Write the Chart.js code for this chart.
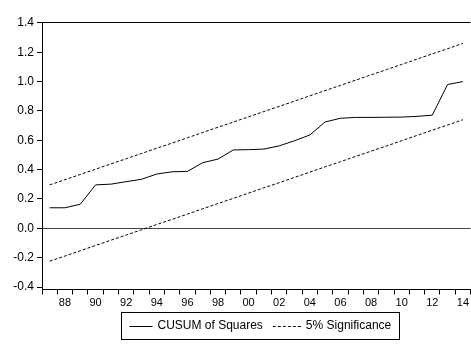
<!DOCTYPE html>
<html>
<head>
<meta charset="utf-8">
<script src="https://cdn.jsdelivr.net/npm/chart.js@4.4.1/dist/chart.umd.min.js"></script>
<style>
html,body{margin:0;padding:0;background:#fff;overflow:hidden}
#wrap{width:471px;height:349px;position:relative}
</style>
</head>
<body>
<div id="wrap"><canvas id="c" width="471" height="349"></canvas></div>
<script>
// Categories: annual observations 1987..2014 (two-digit labels)
const years = ['87','88','89','90','91','92','93','94','95','96','97','98','99','00',
               '01','02','03','04','05','06','07','08','09','10','11','12','13','14'];
// Labels actually printed on the x axis
const xShown = ['88','90','92','94','96','98','00','02','04','06','08','10','12','14'];
// CUSUM of Squares values
const cusum = [0.140,0.140,0.164,0.296,0.301,0.318,0.334,0.370,0.385,0.388,0.447,0.472,0.534,0.536,
               0.540,0.562,0.597,0.636,0.725,0.750,0.756,0.756,0.757,0.758,0.763,0.771,0.980,1.000];
// 5% significance bands
const upper = [0.296,0.331,0.367,0.403,0.439,0.474,0.510,0.546,0.581,0.617,0.653,0.689,0.724,0.760,
               0.796,0.831,0.867,0.903,0.939,0.974,1.010,1.046,1.081,1.117,1.153,1.189,1.224,1.260];
const lower = [-0.224,-0.189,-0.153,-0.117,-0.081,-0.046,-0.010,0.026,0.061,0.097,0.133,0.169,0.204,0.240,
               0.276,0.311,0.347,0.383,0.419,0.454,0.490,0.526,0.561,0.597,0.633,0.669,0.704,0.740];
// Y tick values
const yTicks = [-0.4,-0.2,0.0,0.2,0.4,0.6,0.8,1.0,1.2,1.4];
const seriesNames = ['CUSUM of Squares','5% Significance'];

Chart.defaults.font.family = "'Liberation Sans', Arial, sans-serif";
Chart.defaults.color = '#000';

const boxLegend = {
  id: 'boxLegend',
  afterDraw(chart) {
    const ctx = chart.ctx;
    ctx.save();
    ctx.font = "12px 'Liberation Sans', Arial, sans-serif";
    const w1 = ctx.measureText(seriesNames[0]).width;
    const w2 = ctx.measureText(seriesNames[1]).width;
    const padX = 8, len1 = 23, len2 = 28, gapT = 5, gapItem = 10;
    const total = padX + len1 + gapT + w1 + gapItem + len2 + gapT + w2 + padX;
    const cx = 260, top = 312.5, h = 27, cy = 326;
    const left = Math.round(cx - total / 2) + 0.5;
    ctx.strokeStyle = '#000';
    ctx.lineWidth = 1;
    ctx.strokeRect(left, top, Math.round(total), h);
    let x = left + padX;
    ctx.beginPath(); ctx.moveTo(x, cy + 0.5); ctx.lineTo(x + len1, cy + 0.5); ctx.stroke();
    x += len1 + gapT;
    ctx.fillStyle = '#000';
    ctx.textBaseline = 'middle';
    ctx.textAlign = 'left';
    ctx.fillText(seriesNames[0], x, cy);
    x += w1 + gapItem;
    ctx.setLineDash([3, 2]);
    ctx.beginPath(); ctx.moveTo(x, cy + 0.5); ctx.lineTo(x + len2, cy + 0.5); ctx.stroke();
    ctx.setLineDash([]);
    x += len2 + gapT;
    ctx.fillText(seriesNames[1], x, cy);
    ctx.restore();
  }
};

const isVal = (t, v) => t && Math.abs(t.value - v) < 1e-9;

new Chart(document.getElementById('c'), {
  type: 'line',
  data: {
    labels: years,
    datasets: [
      {label: seriesNames[0], data: cusum, borderColor: '#000', borderWidth: 1, pointRadius: 0, tension: 0, fill: false},
      {label: seriesNames[1], data: upper, borderColor: '#000', borderWidth: 1, borderDash: [3, 2], pointRadius: 0, tension: 0, fill: false},
      {label: seriesNames[1] + ' (lower)', data: lower, borderColor: '#000', borderWidth: 1, borderDash: [3, 2], pointRadius: 0, tension: 0, fill: false}
    ]
  },
  options: {
    responsive: false,
    animation: false,
    devicePixelRatio: 1,
    layout: {padding: {top: 22.9, left: 0, right: 0, bottom: 33.5}},
    plugins: {legend: {display: false}, tooltip: {enabled: false}},
    scales: {
      x: {
        type: 'category',
        offset: true,
        grid: {display: true, offset: true, drawOnChartArea: false, drawTicks: true, tickLength: 5, tickColor: '#000', tickWidth: 1},
        border: {display: true, color: '#000', width: 1},
        ticks: {
          autoSkip: false, maxRotation: 0, minRotation: 0, padding: 2, color: '#000', font: {size: 11},
          callback: function(v) { const l = this.getLabelForValue(v); return xShown.includes(l) ? l : ''; }
        },
        afterFit: s => { s.height = 26; }
      },
      y: {
        type: 'linear',
        min: -0.417,
        max: 1.4,
        afterBuildTicks: s => { s.ticks = yTicks.map(v => ({value: v})); },
        grid: {
          color: c => isVal(c.tick, 0) ? '#444' : (isVal(c.tick, 1.4) ? '#000' : 'rgba(0,0,0,0)'),
          tickColor: '#000', tickLength: 5, drawTicks: true, lineWidth: 1
        },
        border: {display: true, color: '#000', width: 1},
        ticks: {color: '#000', font: {size: 12}, padding: 3, callback: v => v.toFixed(1)},
        afterFit: s => { s.width = 42; }
      }
    }
  },
  plugins: [boxLegend]
});
</script>
</body>
</html>
